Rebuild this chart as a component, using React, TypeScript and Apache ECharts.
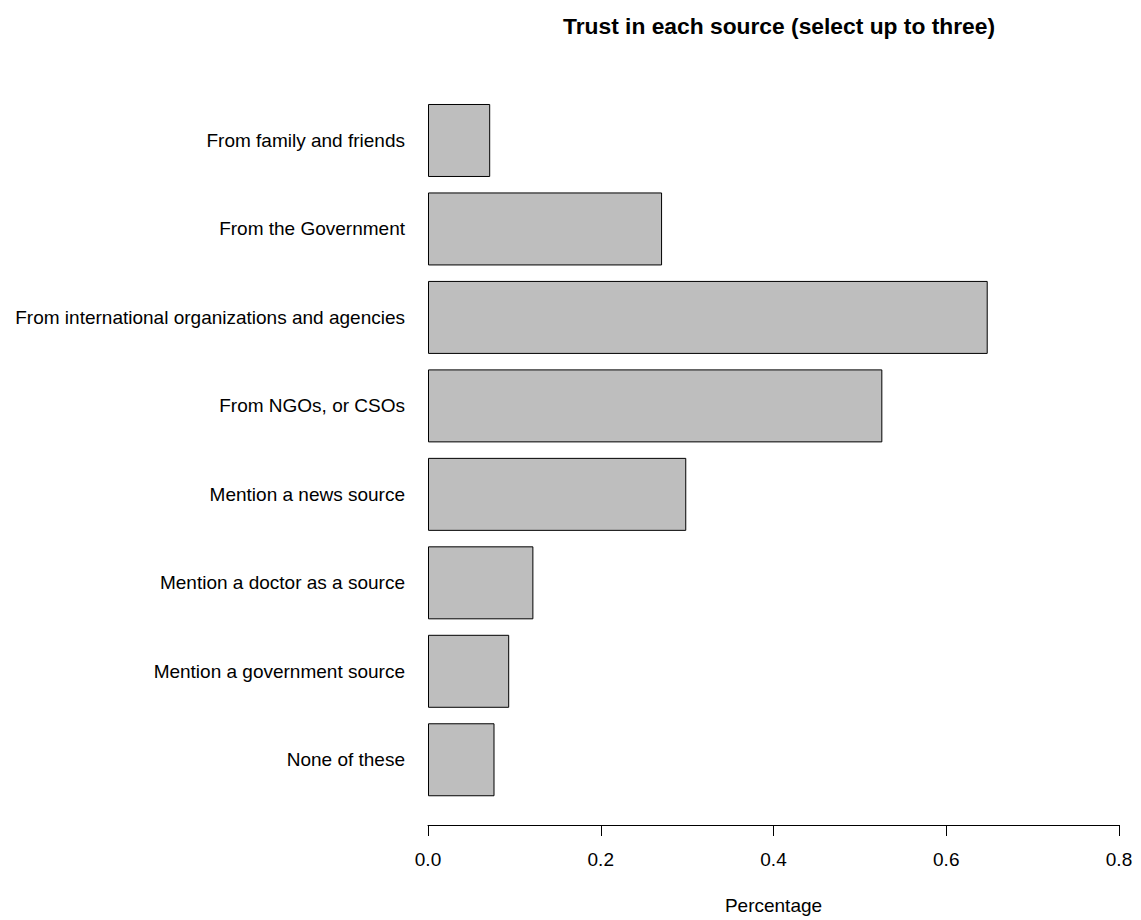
import React, { useEffect, useRef } from "react";
import * as echarts from "echarts";

const categories = [
  "From family and friends",
  "From the Government",
  "From international organizations and agencies",
  "From NGOs, or CSOs",
  "Mention a news source",
  "Mention a doctor as a source",
  "Mention a government source",
  "None of these",
];
const values = [0.072, 0.271, 0.648, 0.526, 0.299, 0.122, 0.094, 0.077];
const xTicks = [0, 0.2, 0.4, 0.6, 0.8];

const FONT = "Liberation Sans, Arial, Helvetica, sans-serif";

export default function App() {
  const ref = useRef<HTMLDivElement>(null);
  useEffect(() => {
    document.body.style.margin = "0";
    const chart = echarts.init(ref.current!, null, { renderer: "svg" });
    chart.setOption({
      animation: false,
      backgroundColor: "#ffffff",
      title: {
        text: "Trust in each source (select up to three)",
        left: 774,
        top: 9,
        textAlign: "center",
        textStyle: { fontFamily: FONT, fontSize: 22.8, fontWeight: "bold", color: "#000" },
      },
      grid: { left: 428, right: 22, top: 96.25, bottom: 115.75, containLabel: false },
      xAxis: {
        type: "value",
        min: xTicks[0],
        max: xTicks[xTicks.length - 1],
        interval: 0.2,
        offset: 21,
        name: "Percentage",
        nameLocation: "middle",
        nameGap: 71,
        nameTextStyle: { fontFamily: FONT, fontSize: 19, color: "#000" },
        axisLine: { show: true, lineStyle: { color: "#000", width: 1 } },
        axisTick: { show: true, length: 11, lineStyle: { color: "#000" } },
        axisLabel: {
          fontFamily: FONT,
          fontSize: 19,
          color: "#000",
          margin: 25,
          formatter: (v: number) => v.toFixed(1),
        },
        splitLine: { show: false },
      },
      yAxis: {
        type: "category",
        data: categories,
        inverse: true,
        axisLine: { show: false },
        axisTick: { show: false },
        axisLabel: { fontFamily: FONT, fontSize: 19, color: "#000", margin: 23 },
        splitLine: { show: false },
      },
      series: [
        {
          type: "bar",
          data: values,
          barCategoryGap: "17.5%",
          itemStyle: { color: "#bebebe", borderColor: "#000", borderWidth: 1 },
        },
      ],
    });
    return () => chart.dispose();
  }, []);
  return <div ref={ref} style={{ width: 1141, height: 920, position: "absolute", left: 0, top: 0 }} />;
}
